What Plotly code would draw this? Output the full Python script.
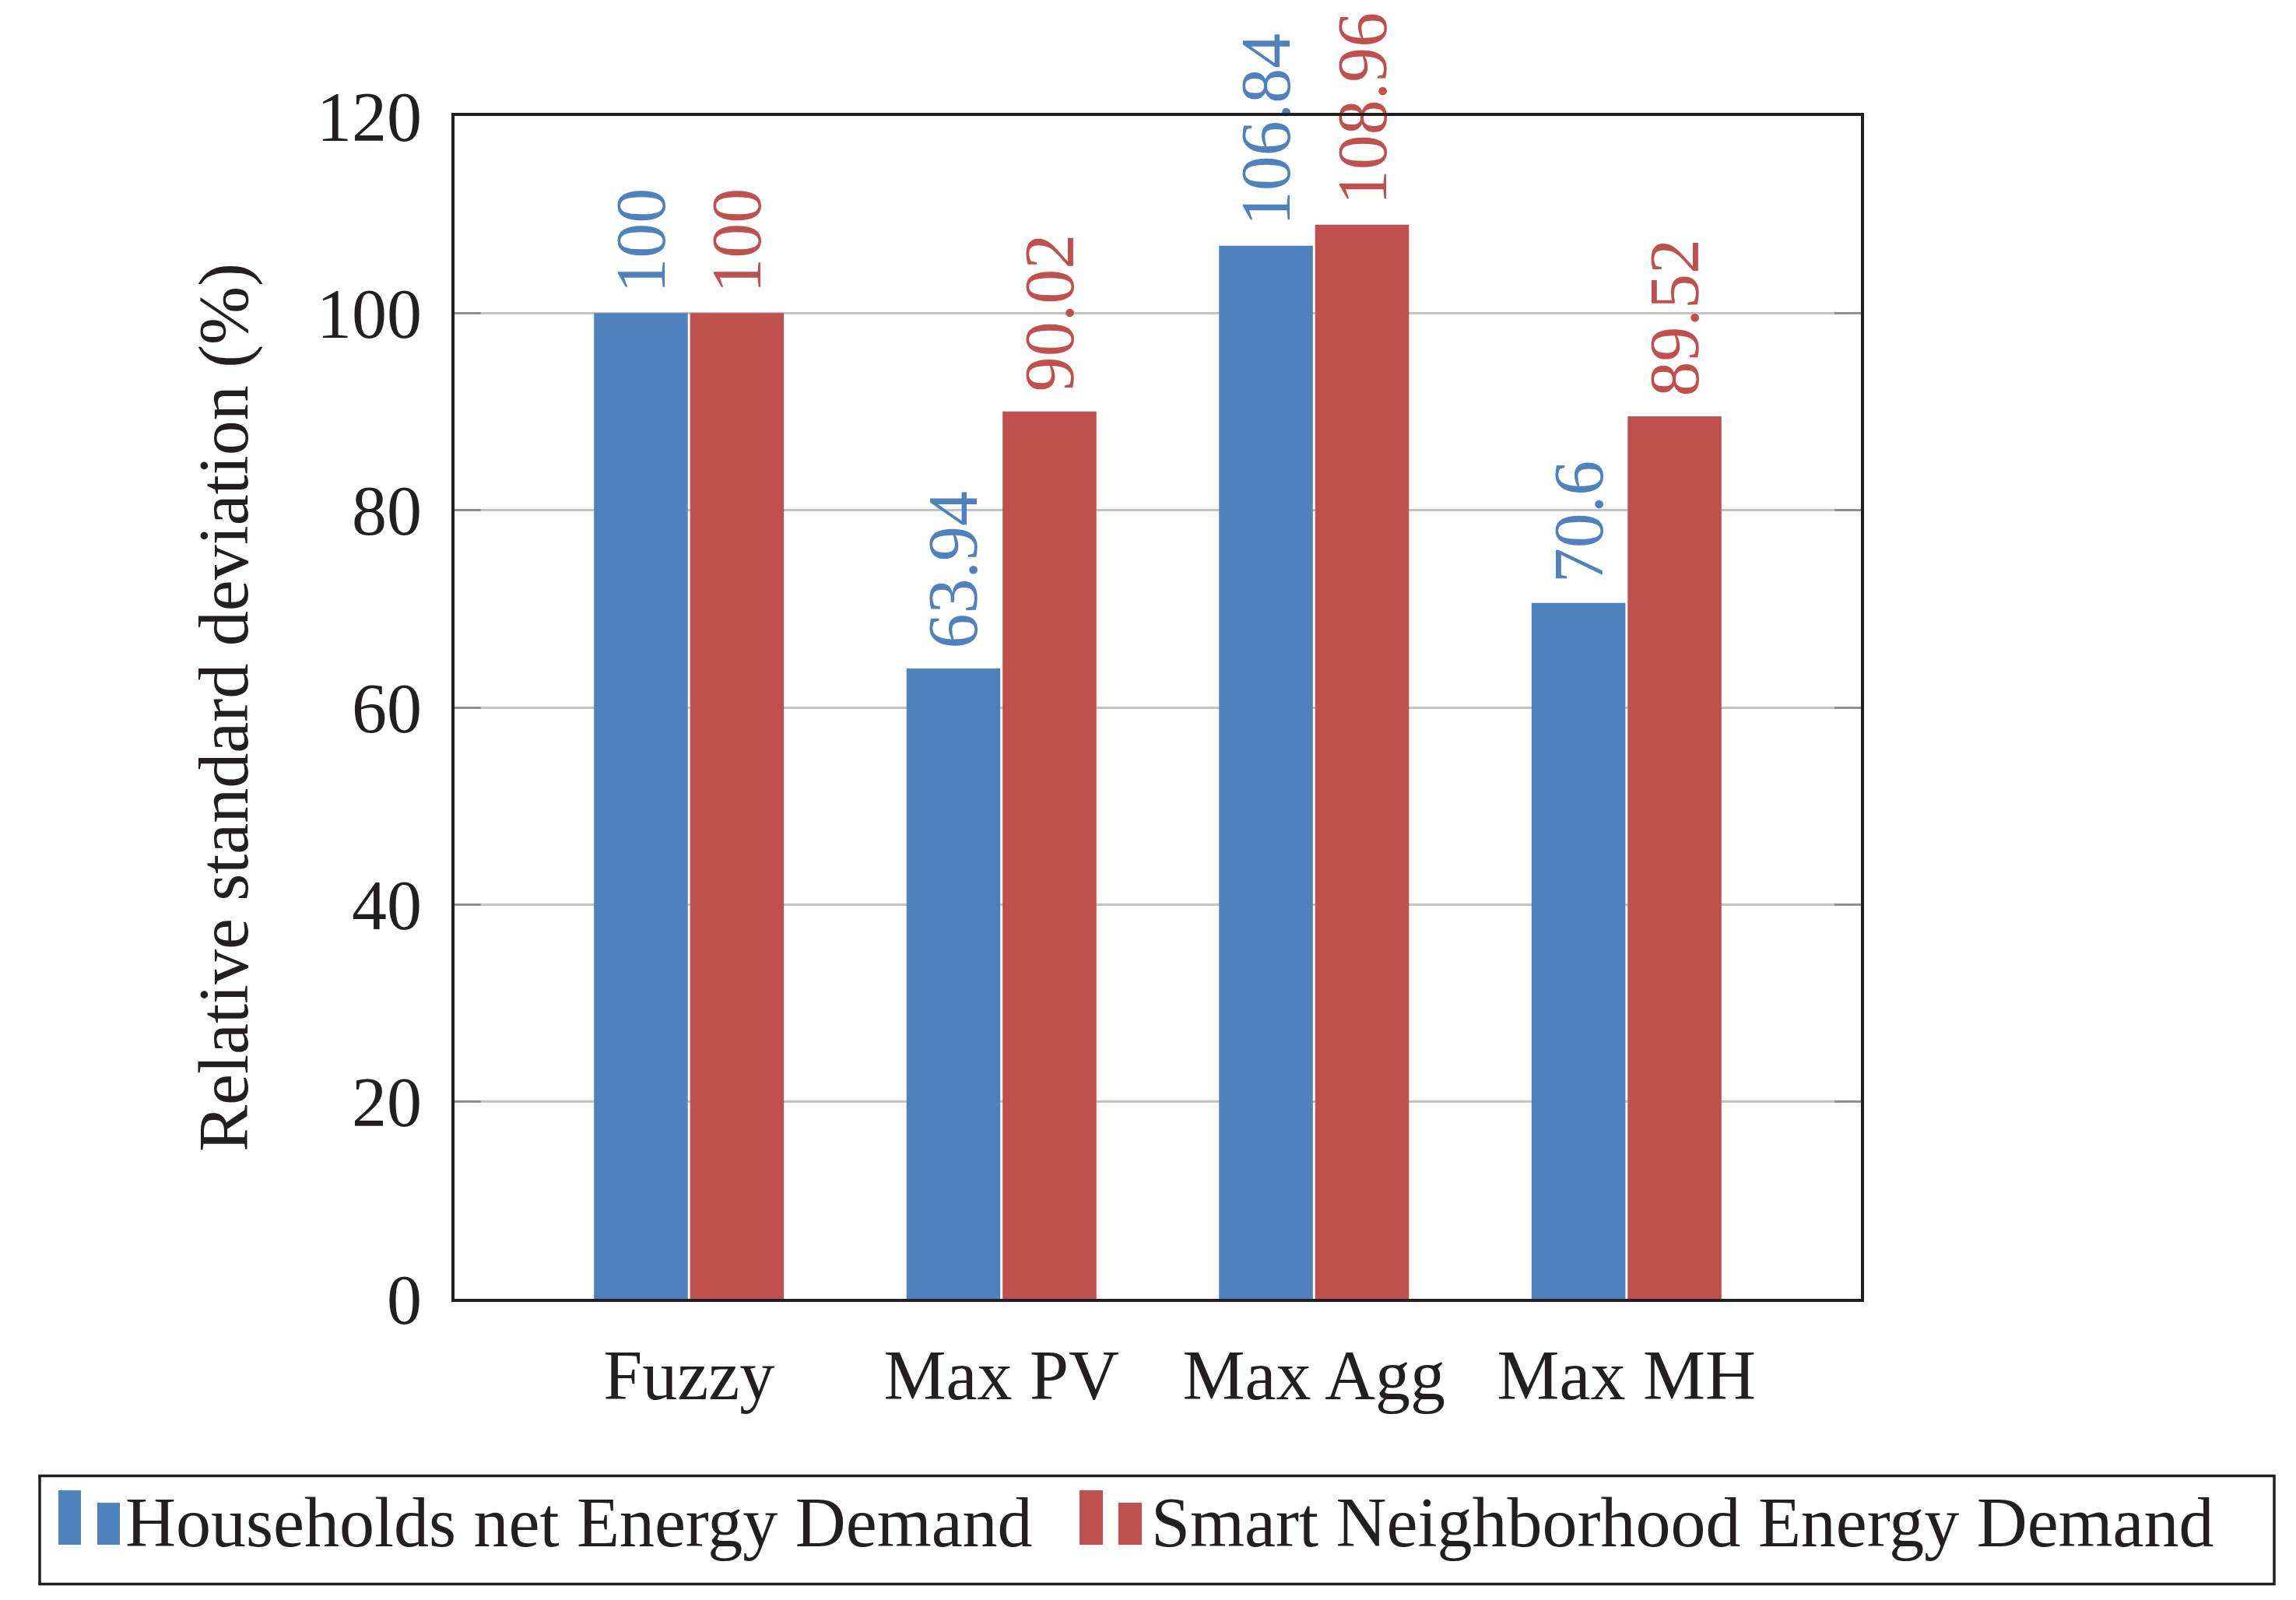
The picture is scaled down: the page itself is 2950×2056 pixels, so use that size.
import plotly.graph_objects as go

categories = ["Fuzzy", "Max PV", "Max Agg", "Max MH"]
households = [100, 63.94, 106.84, 70.6]
neighborhood = [100, 90.02, 108.96, 89.52]
households_labels = ["100", "63.94", "106.84", "70.6"]
neighborhood_labels = ["100", "90.02", "108.96", "89.52"]
y_ticks = [0, 20, 40, 60, 80, 100, 120]

BLUE = "#4F81BD"
RED = "#C0504D"
INK = "#231F20"
FONT = "Liberation Serif"
FS = 90

# plot-area geometry in pixels
W, H = 2950, 2056
ML, MR, MT, MB = 576, 567, 141, 395
PW, PH = W - ML - MR, H - MT - MB


def px_x(px):
    return (px - ML) / PW


def px_y(py):
    return (H - MB - py) / PH


fig = go.Figure()
fig.add_trace(go.Bar(
    x=list(range(len(categories))), y=households, name="Households net Energy Demand",
    marker=dict(color=BLUE, line=dict(width=0)),
    text=households_labels, texttemplate="\u2005%{text}",
    textposition="outside", textangle=-90,
    textfont=dict(color=BLUE, size=FS, family=FONT),
    constraintext="none", cliponaxis=False, legend="legend",
))
fig.add_trace(go.Bar(
    x=list(range(len(categories))), y=neighborhood, name="Smart Neighborhood Energy Demand",
    marker=dict(color=RED, line=dict(width=0)),
    text=neighborhood_labels, texttemplate="\u2005%{text}",
    textposition="outside", textangle=-90,
    textfont=dict(color=RED, size=FS, family=FONT),
    constraintext="none", cliponaxis=False, legend="legend2",
))

legend_common = dict(
    orientation="h", xanchor="left", yanchor="top",
    borderwidth=0, bgcolor="rgba(0,0,0,0)",
    font=dict(family=FONT, size=FS, color=INK),
    itemwidth=40,
)

# legend frame and the pgfplots-style two-bar legend glyphs (decoration, pixel layout)
shapes = [dict(
    type="rect", xref="paper", yref="paper",
    x0=px_x(43), x1=px_x(2914), y0=px_y(1888.5), y1=px_y(2027.5),
    line=dict(color=INK, width=3.5), fillcolor="rgba(0,0,0,0)", layer="above",
)]
glyphs = [
    (BLUE, 67, 96, 1907), (BLUE, 117, 146, 1923),
    (RED, 1379, 1409, 1907), (RED, 1429, 1459, 1923),
]
for color, gx0, gx1, gy0 in glyphs:
    shapes.append(dict(
        type="rect", xref="paper", yref="paper",
        x0=px_x(gx0), x1=px_x(gx1), y0=px_y(gy0), y1=px_y(1977),
        line=dict(width=0), fillcolor=color, layer="above",
    ))

fig.update_layout(
    width=W, height=H,
    margin=dict(l=ML, r=MR, t=MT, b=MB, autoexpand=False),
    paper_bgcolor="white", plot_bgcolor="white",
    font=dict(family=FONT, size=FS, color=INK),
    barmode="group", bargap=0.385, bargroupgap=0.024,
    showlegend=True,
    legend=dict(x=px_x(103), y=px_y(1879), **legend_common),
    legend2=dict(x=px_x(1421), y=px_y(1879), **legend_common),
    shapes=shapes,
    xaxis=dict(
        range=[-0.75, 3.75], tickmode="array",
        tickvals=list(range(len(categories))), ticktext=categories,
        showgrid=False, zeroline=False, ticks="",
        showline=True, linecolor=INK, linewidth=4, mirror=True,
        ticklabelstandoff=17,
        tickfont=dict(family=FONT, size=FS, color=INK),
    ),
    yaxis=dict(
        range=[0, 120], tickmode="array", tickvals=y_ticks,
        showgrid=True, gridcolor="#C4C4C4", gridwidth=3, zeroline=False,
        ticks="inside", ticklen=34, tickwidth=3, tickcolor="#8F8F97",
        showline=True, linecolor=INK, linewidth=4, mirror="ticks",
        ticklabelstandoff=20,
        tickfont=dict(family=FONT, size=FS, color=INK),
        title=dict(text="Relative standard deviation (%)", standoff=60,
                   font=dict(family=FONT, size=FS, color=INK)),
    ),
)

fig.write_html("out.html")
